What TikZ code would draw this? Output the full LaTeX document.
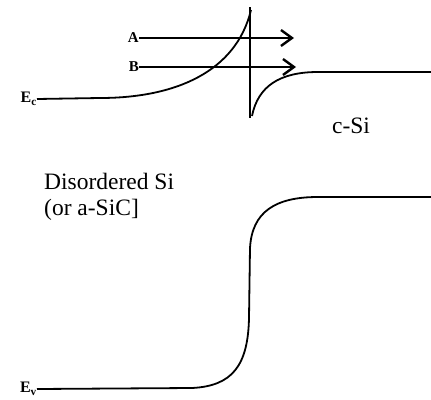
\documentclass[tikz,border=0pt]{standalone}
\usepackage{fontspec}
\setmainfont{Liberation Serif}
\usetikzlibrary{arrows.meta}
\begin{document}
\begin{tikzpicture}[x=1pt,y=-1pt,
  band/.style={line width=1.8pt},
  beam/.style={line width=2.8pt,-{Straight Barb[length=11pt,width=16pt,line width=2.4pt]}},
  lbl/.style={inner sep=0pt,font=\fontsize{23.5}{26}\selectfont},
  small/.style={inner sep=0pt,font=\fontsize{16}{18}\selectfont\bfseries},
  tag/.style={inner sep=0pt,font=\fontsize{15}{17}\selectfont\bfseries}]
\useasboundingbox (0,0) rectangle (431,399);
% labels
\node[small,anchor=east] (ec) at (37,99) {E\textsubscript{c}};
\node[small,anchor=east] (ev) at (37,389) {E\textsubscript{v}};
\node[tag,anchor=east] (la) at (139,38) {A};
\node[tag,anchor=east] (lb) at (139,67) {B};
\node[lbl,anchor=base] (csi) at (351,133) {c-Si};
\node[lbl,anchor=base west] (dis) at (44,189) {Disordered Si};
\node[lbl,anchor=base west] (dis2) at (44,215) {(or a-SiC]};
% junction
\coordinate (jt) at (250,7);
\coordinate (jb) at (250,118);
\draw[line width=1.4pt] (jt) -- (jb);
% conduction band
\draw[band] (ec.east) -- (100,98) .. controls (175,98) and (236,72) .. (251,10);
\draw[band] (252,116) .. controls (258,86) and (280,72) .. (318,72) -- (431,72);
% valence band
\draw[band] (ev.east) -- (192,388) .. controls (232,386) and (248,366) .. (249,318)
  -- (250,248) .. controls (252,212) and (275,197) .. (318,197) -- (431,197);
% arrows
\coordinate (ta) at (294,38);
\coordinate (tb) at (296,67);
\draw[beam] (la.east) -- (ta);
\draw[beam] (lb.east) -- (tb);
\end{tikzpicture}
\end{document}
